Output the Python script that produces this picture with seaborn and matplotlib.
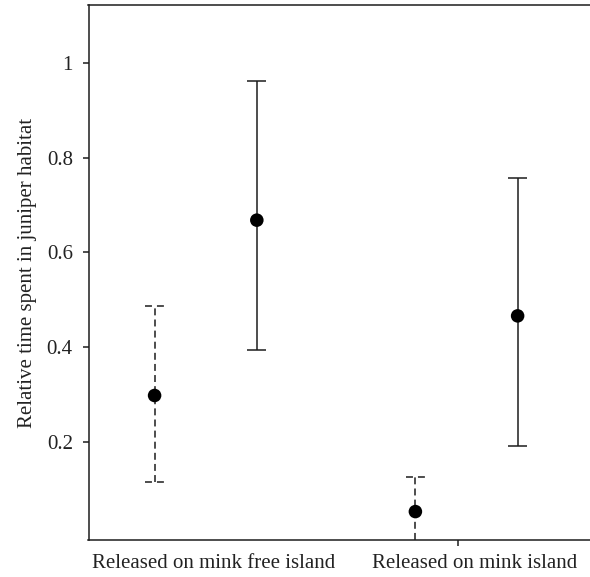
import matplotlib
matplotlib.use("Agg")
import matplotlib.pyplot as plt
import seaborn as sns
import pandas as pd

# groups on the x axis
groups = ["Released on mink free island", "Released on mink island"]

# dashed series (left of each pair)
dashed_mean = [0.298, 0.053]
dashed_low = [0.116, -0.03]
dashed_high = [0.487, 0.125]

# solid series (right of each pair)
solid_mean = [0.668, 0.466]
solid_low = [0.394, 0.191]
solid_high = [0.962, 0.757]

ytick_values = [0.2, 0.4, 0.6, 0.8, 1.0]
ytick_labels = ["0.2", "0.4", "0.6", "0.8", "1"]

sns.set_theme(style="ticks")
plt.rcParams["font.family"] = ["Liberation Serif", "DejaVu Serif"]
plt.rcParams["lines.scale_dashes"] = False

# long table, one row per point
rows = []
for i, g in enumerate(groups):
    rows.append(dict(group=g, series="dashed", x=i - 0.196,
                     mean=dashed_mean[i], low=dashed_low[i], high=dashed_high[i]))
    rows.append(dict(group=g, series="solid", x=i + 0.196,
                     mean=solid_mean[i], low=solid_low[i], high=solid_high[i]))
df = pd.DataFrame(rows)

fig = plt.figure(figsize=(5.9, 5.77), dpi=100)
ax = fig.add_axes([0.15, 0.0641, 0.85, 0.9272])

line_col = "#1c1c1c"
lw = 1.1
cap_half = 0.0364
styles = {"dashed": (0, (5.0, 3.0)), "solid": "solid"}
cap_styles = {"dashed": (0, (5.0, 3.6)), "solid": "solid"}

for name, sub in df.groupby("series"):
    ax.vlines(sub["x"], sub["low"], sub["high"], colors=line_col,
              linewidth=lw, linestyles=styles[name], zorder=2)
    for col in ["low", "high"]:
        ax.hlines(sub[col], sub["x"] - cap_half, sub["x"] + cap_half,
                  colors=line_col, linewidth=lw, linestyles=cap_styles[name], zorder=2)

sns.scatterplot(data=df, x="x", y="mean", color="black", s=95,
                edgecolor="none", legend=False, zorder=3, ax=ax)

ax.set_xlim(-0.4494, 1.4735)
ax.set_ylim(-0.007, 1.122)

ax.set_yticks(ytick_values)
ax.set_yticklabels(ytick_labels)
ax.set_xticks([0.03, 1.03])
ax.set_xticklabels(groups)
ax.set_xticks([0.966], minor=True)

ax.tick_params(axis="y", direction="out", length=4.3, width=lw, color=line_col,
               pad=7, labelsize=15, labelcolor="#222222")
ax.tick_params(axis="x", which="major", length=0, pad=10, labelsize=15,
               labelcolor="#222222")
ax.tick_params(axis="x", which="minor", direction="out", length=4.3, width=lw,
               color=line_col)

ax.set_xlabel("")
ax.set_ylabel("Relative time spent in juniper habitat", fontsize=15,
              color="#222222", labelpad=7)

for side in ["left", "bottom", "top"]:
    ax.spines[side].set_color(line_col)
    ax.spines[side].set_linewidth(lw)
ax.spines["right"].set_visible(False)

fig.savefig("out.png", dpi=100)
